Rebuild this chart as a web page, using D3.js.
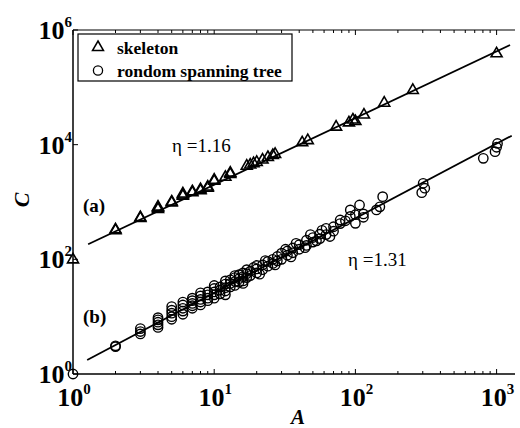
<!DOCTYPE html>
<html>
<head>
<meta charset="utf-8">
<title>C vs A</title>
<style>
body { margin: 0; background: #fff; }
text { font-family: "Liberation Serif", "Times New Roman", serif; fill: #000; }
.tick-label { font-weight: bold; font-size: 26px; }
.sup { font-size: 15px; }
</style>
<script src="https://d3js.org/d3.v7.min.js"></script>
</head>
<body>
<svg id="chart" width="520" height="428"></svg>
<script>
// (a) skeleton, values shifted up x100 as in the figure: [A, C]
var skeleton = [
  [1, 100],
  [2, 322], [2, 334], [3, 528], [3, 545],
  [4, 760], [4, 795], [4, 830], [5, 985], [5, 1020],
  [6, 1290], [6, 1350], [6, 1410], [7, 1480], [7, 1540],
  [8, 1600], [8, 1680], [9, 1780], [9, 1860], [10, 2350], [10, 2450],
  [12, 2750], [13, 3100], [13, 3250],
  [17, 4300], [18, 4500], [19, 4750], [20, 5000], [22, 5500], [24, 6100], [26, 6600], [27, 6900],
  [42, 11000], [46, 12000],
  [73, 20600], [90, 24500], [96, 27500], [100, 25800], [115, 33500],
  [160, 54000], [255, 90000], [1000, 392000]
];

// (b) random spanning tree: [A, C]
var tree = [
  [1, 1],
  [2, 3], [2, 3.1],
  [3, 5], [3, 5.5], [3, 6.2],
  [4, 6.5], [4, 7.2], [4, 8], [4, 8.8], [4, 9.6],
  [5, 9], [5, 10], [5, 11.5], [5, 13], [5, 15],
  [6, 11], [6, 12.5], [6, 14], [6, 16], [6, 18],
  [7, 14], [7, 15.5], [7, 17], [7, 19], [7, 21],
  [8, 16], [8, 18], [8, 20], [8, 23], [8, 26],
  [9, 19], [9, 21], [9, 24], [9, 27],
  [10, 21], [10, 24], [10, 27], [10, 31], [10, 35],
  [11, 25], [11, 29], [11, 33],
  [12, 24], [12, 28], [12, 32], [12, 37], [12, 42],
  [13, 33], [13, 38], [13, 44],
  [14, 35], [14, 41], [14, 48], [14, 52],
  [15, 40], [15, 46], [15, 54],
  [16, 38], [16, 42], [16, 50], [16, 58],
  [17, 48], [17, 56], [17, 66],
  [18, 52], [18, 62], [19, 72],
  [20, 58], [20, 68], [20, 78], [21, 55],
  [22, 66], [22, 80], [23, 95], [24, 76], [24, 92],
  [26, 85], [26, 100], [27, 80], [28, 94], [28, 112],
  [30, 100], [30, 128], [32, 150], [33, 118], [33, 140],
  [35, 110], [36, 130], [36, 158], [38, 190], [40, 150], [40, 180],
  [44, 160], [45, 175], [45, 215], [48, 270], [50, 200], [50, 240],
  [53, 210], [56, 230], [56, 275], [58, 320], [62, 270], [62, 348],
  [66, 250], [70, 310], [70, 370], [78, 420], [78, 485], [85, 470],
  [92, 560], [92, 727], [100, 424], [100, 600],
  [107, 886], [114, 541], [114, 620], [141, 727], [149, 823], [156, 1238],
  [295, 1455], [302, 2120], [310, 1740],
  [805, 5780], [975, 7550], [1000, 9020], [1015, 10500]
];

// fitted lines, end points
var skeletonFit = [[1.28, 183], [1245, 548000]];
var treeFit = [[1.26, 1.75], [1280, 14350]];

var xTicks = [1, 10, 100, 1000];
var yTicks = [1, 100, 10000, 1000000];
var legendItems = ["skeleton", "rondom spanning tree"];

var svg = d3.select("#chart");
var plot = {left: 73, right: 515, top: 30, bottom: 374};

var x = d3.scaleLog().domain([1, 1350]).range([plot.left, plot.right]);
var y = d3.scaleLog().domain([1, 1e6]).range([plot.bottom, plot.top]);

function exponent(v) { return Math.round(Math.log10(v)); }

// axes lines
svg.append("line").attr("x1", plot.left).attr("x2", plot.right)
  .attr("y1", plot.bottom).attr("y2", plot.bottom).attr("stroke", "#000").attr("stroke-width", 1.5);
svg.append("line").attr("x1", plot.left).attr("x2", plot.right)
  .attr("y1", plot.top).attr("y2", plot.top).attr("stroke", "#000").attr("stroke-width", 1.2);
svg.append("line").attr("x1", plot.left).attr("x2", plot.left)
  .attr("y1", plot.top).attr("y2", plot.bottom).attr("stroke", "#000").attr("stroke-width", 1.5);

// x ticks, major and minor, inward on bottom and top
var xMinor = [];
for (var dec = 1; dec <= 1000; dec *= 10) {
  for (var k = 2; k <= 9; k++) {
    if (dec * k <= 1350) xMinor.push(dec * k);
  }
}
var tickG = svg.append("g").attr("stroke", "#000").attr("stroke-width", 1);
xTicks.concat(xMinor).forEach(function(v) {
  var len = xTicks.indexOf(v) >= 0 ? 5 : 3;
  tickG.append("line").attr("x1", x(v)).attr("x2", x(v))
    .attr("y1", plot.bottom).attr("y2", plot.bottom - len);
  tickG.append("line").attr("x1", x(v)).attr("x2", x(v))
    .attr("y1", plot.top).attr("y2", plot.top + len);
});
yTicks.forEach(function(v) {
  tickG.append("line").attr("x1", plot.left).attr("x2", plot.left + 5)
    .attr("y1", y(v)).attr("y2", y(v));
});

// tick labels
xTicks.forEach(function(v) {
  var t = svg.append("text").attr("class", "tick-label")
    .attr("x", x(v) + 1).attr("y", 406).attr("text-anchor", "middle");
  t.append("tspan").text("10");
  t.append("tspan").attr("class", "sup").attr("dy", -12).text(exponent(v));
});
yTicks.forEach(function(v) {
  var t = svg.append("text").attr("class", "tick-label")
    .attr("x", plot.left - 1).attr("y", y(v) + 9).attr("text-anchor", "end");
  t.append("tspan").text("10");
  t.append("tspan").attr("class", "sup").attr("dy", -12).text(exponent(v));
});

// axis titles
svg.append("text").attr("x", 298).attr("y", 424).attr("text-anchor", "middle")
  .style("font-weight", "bold").style("font-style", "italic").style("font-size", "21px").text("A");
svg.append("text").attr("transform", "translate(29,200) rotate(-90)").attr("text-anchor", "middle")
  .style("font-weight", "bold").style("font-style", "italic").style("font-size", "22px").text("C");

// fit lines
var line = d3.line().x(function(d) { return x(d[0]); }).y(function(d) { return y(d[1]); });
[skeletonFit, treeFit].forEach(function(f) {
  svg.append("path").attr("d", line(f)).attr("fill", "none").attr("stroke", "#000").attr("stroke-width", 1.8);
});

// markers
var triPath = "M0,-6L5.5,3.5L-5.5,3.5Z";
svg.append("g").selectAll("path").data(skeleton).join("path")
  .attr("d", triPath)
  .attr("transform", function(d) { return "translate(" + x(d[0]) + "," + y(d[1]) + ")"; })
  .attr("fill", "none").attr("stroke", "#000").attr("stroke-width", 1.6);

svg.append("g").selectAll("circle").data(tree).join("circle")
  .attr("cx", function(d) { return x(d[0]); })
  .attr("cy", function(d) { return y(d[1]); })
  .attr("r", 4.7)
  .attr("fill", "none").attr("stroke", "#000").attr("stroke-width", 1.4);

// annotations
svg.append("text").attr("x", 83).attr("y", 212).style("font-weight", "bold").style("font-size", "19px").text("(a)");
svg.append("text").attr("x", 83).attr("y", 323).style("font-weight", "bold").style("font-size", "19px").text("(b)");
svg.append("text").attr("x", 172).attr("y", 152).style("font-size", "19px").text("\u03B7 =1.16");
svg.append("text").attr("x", 348).attr("y", 266).style("font-size", "19px").text("\u03B7 =1.31");

// legend
var lg = svg.append("g");
lg.append("rect").attr("x", 78).attr("y", 34).attr("width", 214).attr("height", 47)
  .attr("fill", "#fff").attr("stroke", "#000").attr("stroke-width", 1.2);
lg.append("path").attr("d", triPath).attr("transform", "translate(98,47)")
  .attr("fill", "none").attr("stroke", "#000").attr("stroke-width", 1.5);
lg.append("circle").attr("cx", 98).attr("cy", 70.5).attr("r", 4.6)
  .attr("fill", "none").attr("stroke", "#000").attr("stroke-width", 1.3);
legendItems.forEach(function(s, i) {
  lg.append("text").attr("x", 117).attr("y", 54 + i * 23)
    .style("font-weight", "bold").style("font-size", "17.5px").text(s);
});
</script>
</body>
</html>
